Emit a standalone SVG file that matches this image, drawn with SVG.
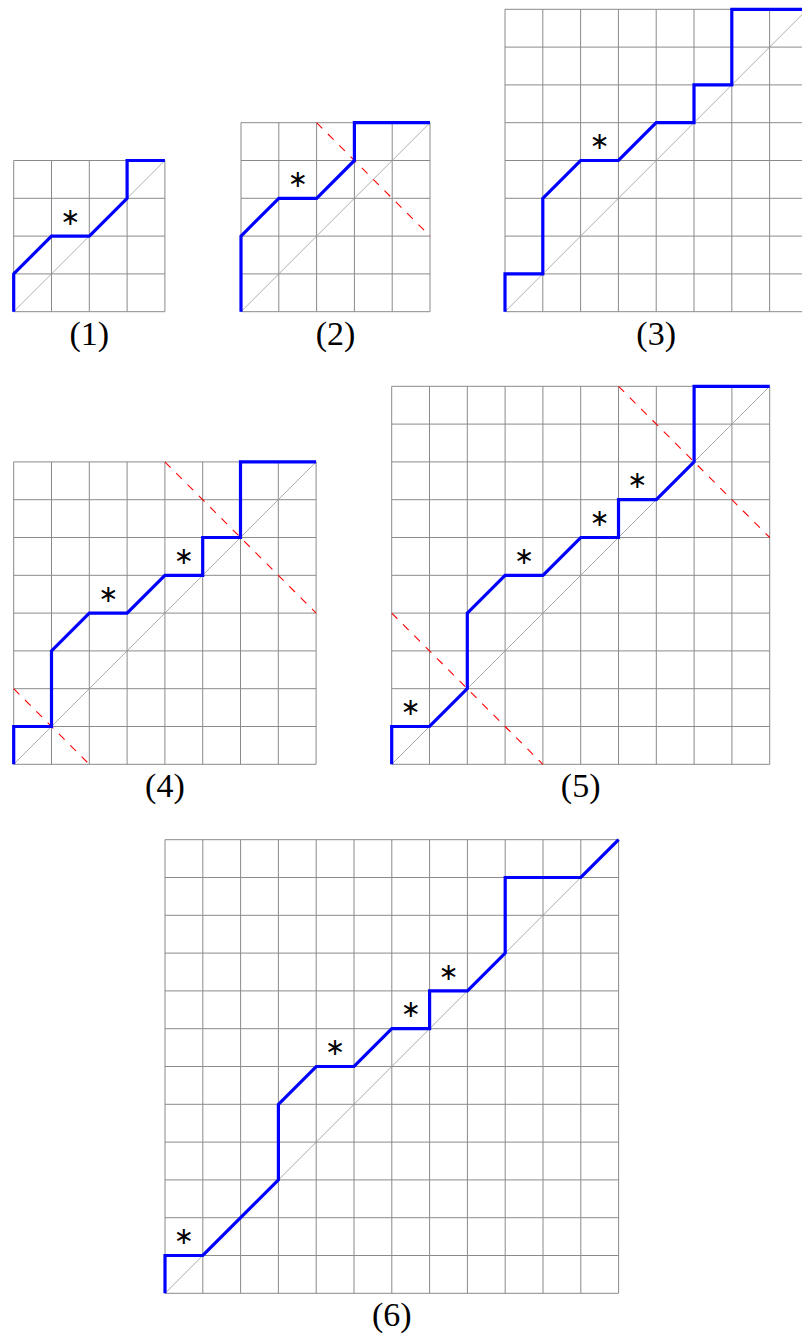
<svg xmlns="http://www.w3.org/2000/svg" width="802" height="1336" viewBox="0 0 802 1336">
<style>
.grid{fill:none;stroke:#8a8a8a;stroke-width:1}
.diag{fill:none;stroke:#999999;stroke-width:0.8}
.red{fill:none;stroke:#ff0000;stroke-width:1.1;stroke-dasharray:8 8}
.path{fill:none;stroke:#0000ff;stroke-width:3.2;stroke-linejoin:miter}
.star{font-family:"DejaVu Sans",sans-serif;font-size:24px;text-anchor:middle;fill:#000}
.lbl{font-family:"Liberation Serif",serif;font-size:34px;text-anchor:middle;fill:#000}
</style>
<rect width="802" height="1336" fill="#fff"/>

<g id="panel1" transform="translate(13.7,311.7)">
<path class="grid" d="M0 0V-151.2M37.8 0V-151.2M75.6 0V-151.2M113.4 0V-151.2M151.2 0V-151.2M0 0H151.2M0 -37.8H151.2M0 -75.6H151.2M0 -113.4H151.2M0 -151.2H151.2"/>
<path class="diag" d="M0 0L151.2 -151.2"/>
<path class="path" d="M0 0V-37.8L37.8 -75.6H75.6L113.4 -113.4V-151.2H151.2"/>
<text class="star" x="56.7" y="-87">∗</text>
<text class="lbl" x="75.6" y="33">(1)</text>
</g>

<g id="panel2" transform="translate(241,311.7)">
<path class="grid" d="M0 0V-189M37.8 0V-189M75.6 0V-189M113.4 0V-189M151.2 0V-189M189 0V-189M0 0H189M0 -37.8H189M0 -75.6H189M0 -113.4H189M0 -151.2H189M0 -189H189"/>
<path class="diag" d="M0 0L189 -189"/>
<path class="red" d="M75.6 -189L189 -75.6"/>
<path class="path" d="M0 0V-75.6L37.8 -113.4H75.6L113.4 -151.2V-189H189"/>
<text class="star" x="56.7" y="-124.8">∗</text>
<text class="lbl" x="94.5" y="33">(2)</text>
</g>

<g id="panel3" transform="translate(505,311.7)">
<path class="grid" d="M0 0V-302.4M37.8 0V-302.4M75.6 0V-302.4M113.4 0V-302.4M151.2 0V-302.4M189 0V-302.4M226.8 0V-302.4M264.6 0V-302.4M302.4 0V-302.4M0 0H302.4M0 -37.8H302.4M0 -75.6H302.4M0 -113.4H302.4M0 -151.2H302.4M0 -189H302.4M0 -226.8H302.4M0 -264.6H302.4M0 -302.4H302.4"/>
<path class="diag" d="M0 0L302.4 -302.4"/>
<path class="path" d="M0 0V-37.8H37.8V-113.4L75.6 -151.2H113.4L151.2 -189H189V-226.8H226.8V-302.4H302.4"/>
<text class="star" x="94.5" y="-162.6">∗</text>
<text class="lbl" x="151.2" y="33">(3)</text>
</g>

<g id="panel4" transform="translate(13.7,764.3)">
<path class="grid" d="M0 0V-302.4M37.8 0V-302.4M75.6 0V-302.4M113.4 0V-302.4M151.2 0V-302.4M189 0V-302.4M226.8 0V-302.4M264.6 0V-302.4M302.4 0V-302.4M0 0H302.4M0 -37.8H302.4M0 -75.6H302.4M0 -113.4H302.4M0 -151.2H302.4M0 -189H302.4M0 -226.8H302.4M0 -264.6H302.4M0 -302.4H302.4"/>
<path class="diag" d="M0 0L302.4 -302.4"/>
<path class="red" d="M151.2 -302.4L302.4 -151.2"/>
<path class="red" d="M0 -75.6L75.6 0"/>
<path class="path" d="M0 0V-37.8H37.8V-113.4L75.6 -151.2H113.4L151.2 -189H189V-226.8H226.8V-302.4H302.4"/>
<text class="star" x="94.5" y="-162.6">∗</text>
<text class="star" x="170.1" y="-200.4">∗</text>
<text class="lbl" x="151.2" y="33">(4)</text>
</g>

<g id="panel5" transform="translate(391.7,764.3)">
<path class="grid" d="M0 0V-378M37.8 0V-378M75.6 0V-378M113.4 0V-378M151.2 0V-378M189 0V-378M226.8 0V-378M264.6 0V-378M302.4 0V-378M340.2 0V-378M378 0V-378M0 0H378M0 -37.8H378M0 -75.6H378M0 -113.4H378M0 -151.2H378M0 -189H378M0 -226.8H378M0 -264.6H378M0 -302.4H378M0 -340.2H378M0 -378H378"/>
<path class="diag" d="M0 0L378 -378"/>
<path class="red" d="M226.8 -378L378 -226.8"/>
<path class="red" d="M0 -151.2L151.2 0"/>
<path class="path" d="M0 0V-37.8H37.8L75.6 -75.6V-151.2L113.4 -189H151.2L189 -226.8H226.8V-264.6H264.6L302.4 -302.4V-378H378"/>
<text class="star" x="18.9" y="-49.2">∗</text>
<text class="star" x="132.3" y="-200.4">∗</text>
<text class="star" x="207.9" y="-238.2">∗</text>
<text class="star" x="245.7" y="-276">∗</text>
<text class="lbl" x="189" y="33">(5)</text>
</g>

<g id="panel6" transform="translate(165,1293.3)">
<path class="grid" d="M0 0V-453.6M37.8 0V-453.6M75.6 0V-453.6M113.4 0V-453.6M151.2 0V-453.6M189 0V-453.6M226.8 0V-453.6M264.6 0V-453.6M302.4 0V-453.6M340.2 0V-453.6M378 0V-453.6M415.8 0V-453.6M453.6 0V-453.6M0 0H453.6M0 -37.8H453.6M0 -75.6H453.6M0 -113.4H453.6M0 -151.2H453.6M0 -189H453.6M0 -226.8H453.6M0 -264.6H453.6M0 -302.4H453.6M0 -340.2H453.6M0 -378H453.6M0 -415.8H453.6M0 -453.6H453.6"/>
<path class="diag" d="M0 0L453.6 -453.6"/>
<path class="path" d="M0 0V-37.8H37.8L113.4 -113.4V-189L151.2 -226.8H189L226.8 -264.6H264.6V-302.4H302.4L340.2 -340.2V-415.8H415.8L453.6 -453.6"/>
<text class="star" x="18.9" y="-49.2">∗</text>
<text class="star" x="170.1" y="-238.2">∗</text>
<text class="star" x="245.7" y="-276">∗</text>
<text class="star" x="283.5" y="-313.8">∗</text>
<text class="lbl" x="226.8" y="33">(6)</text>
</g>
</svg>
